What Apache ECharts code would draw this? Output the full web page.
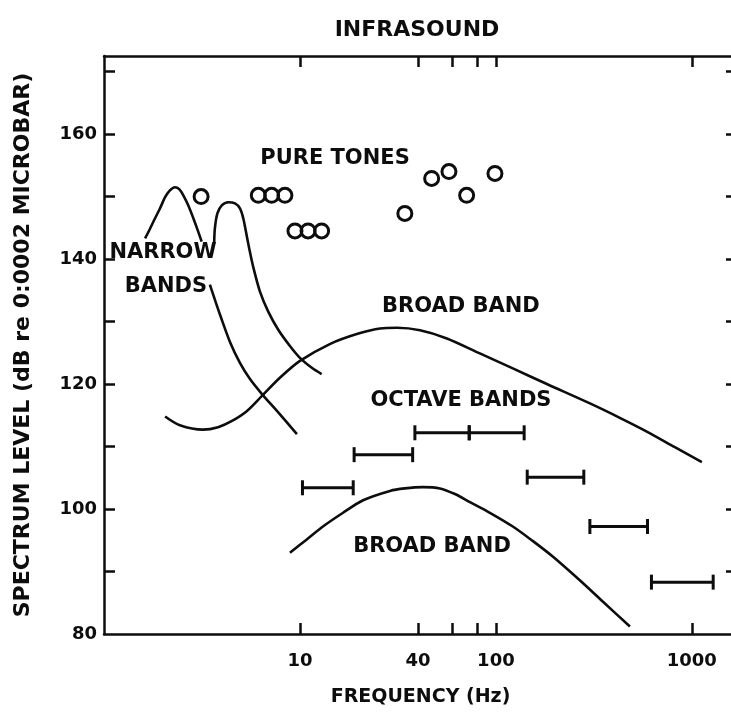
<!DOCTYPE html>
<html><head><meta charset="utf-8">
<script src="https://cdn.jsdelivr.net/npm/echarts@6/dist/echarts.min.js"></script>
<style>html,body{margin:0;padding:0;background:#fff}#c{width:731px;height:719px}</style>
</head><body><div id="c"></div>
<script>
// ---- data (frequency in Hz, level in dB) ----
const xTicksHz = [10, 40, 60, 80, 100, 1000];
const xLabelsHz = [10, 40, 100, 1000];
const yTicks = [90, 100, 110, 120, 130, 140, 150, 160, 170];
const yLabels = [80, 100, 120, 140, 160];

const pureTones = [[3.13,150.0],[6.13,150.2],[7.17,150.2],[8.38,150.2],[9.43,144.5],[11.0,144.5],[12.9,144.5],[34.3,147.3],[47.0,152.9],[57.6,154.0],[70.9,150.2],[98.9,153.7]];

const narrowBand1 = [[1.62,143.3],[1.72,144.9],[1.82,146.5],[1.93,148.1],[2.05,149.9],[2.17,151.0],[2.30,151.5],[2.42,151.2],[2.54,150.2],[2.69,148.6],[2.86,146.5],[3.01,144.6],[3.15,142.8],[3.3,null],[3.47,135.9],[3.68,133.5],[3.91,131.1],[4.40,126.7],[4.94,123.4],[5.56,120.8],[6.40,118.4],[7.63,115.7],[9.65,112.0]];
const narrowBand2 = [[3.65,142.5],[3.68,144.9],[3.79,147.3],[3.99,148.6],[4.31,149.1],[4.66,148.9],[4.94,148.1],[5.14,146.5],[5.30,144.4],[5.51,141.7],[5.79,138.6],[6.25,134.8],[6.89,131.6],[7.75,128.7],[8.89,126.1],[10.0,124.2],[11.5,122.6],[12.9,121.6]];
const broadBandUpper = [[2.05,114.8],[2.44,113.4],[3.20,112.7],[3.82,113.1],[4.50,114.1],[5.37,115.7],[6.40,118.1],[7.90,121.0],[10.0,123.7],[14.2,126.4],[19.5,128.0],[25.6,128.9],[31.3,129.0],[41.0,128.6],[56.2,127.3],[82.8,124.9],[122,122.5],[182,120.0],[302,116.9],[429,114.6],[589,112.4],[819,109.9],[1125,107.5]];
const broadBandLower = [[8.89,93.0],[10.8,95.1],[13.1,97.2],[16.6,99.4],[21.0,101.4],[28.8,102.9],[34.3,103.3],[42.4,103.5],[51.8,103.3],[61.8,102.4],[73.7,101.1],[93.2,99.4],[122,97.2],[154,94.9],[195,92.4],[268,88.6],[351,85.2],[483,81.2]];

const octaveLow   = [10.3, 18.9, 38.6, 73.1, 144.5, 301.7, 622];
const octaveHigh  = [18.7, 37.6, 73.1, 139.4, 281, 594, 1285];
const octaveLevel = [103.4, 108.7, 112.2, 112.2, 105.1, 97.2, 88.3];

const annotations = [['PURE TONES',15.1,156.1],['NARROW',2.0,141.0],['BANDS',2.07,135.6],['BROAD BAND',66.3,132.4],['OCTAVE BANDS',66.3,117.3],['BROAD BAND',47.2,94.0]];

const X_MIN = 1, X_MAX = 1700;
const FONT = 'DejaVu Sans';
const INK = '#0d0d0d';

const chart = echarts.init(document.getElementById('c'), null, {renderer: 'canvas'});
const LMIN = Math.log10(X_MIN), LMAX = Math.log10(X_MAX);
const tickAxisCommon = {
  type: 'value', min: LMIN, max: LMAX, splitLine: {show: false},
  axisLine: {show: true, onZero: false, lineStyle: {color: INK, width: 2.5}},
  axisTick: {show: true, inside: true, length: 11, lineStyle: {color: INK, width: 2.5}, customValues: xTicksHz.map(v => Math.log10(v))}
};
const lineStyle = {color: INK, width: 2.6, opacity: 1};
const curve = (name, data) => ({name, type: 'line', data, smooth: 0.3, showSymbol: false, symbol: 'none', connectNulls: false, lineStyle});

chart.setOption({
  animation: false,
  backgroundColor: '#fff',
  title: {text: 'INFRASOUND', left: 417, top: 19, textAlign: 'center', padding: 0,
    textStyle: {fontFamily: FONT, fontSize: 22, fontWeight: 'bold', color: INK}},
  grid: {left: 104, top: 56, bottom: 85, right: -6, containLabel: false, outerBoundsMode: 'none'},
  xAxis: [
    {type: 'log', logBase: 10, min: X_MIN, max: X_MAX, position: 'bottom',
      axisLine: {show: false, onZero: false}, axisTick: {show: false}, axisLabel: {show: false},
      splitLine: {show: false}, minorTick: {show: false}},
    Object.assign({}, tickAxisCommon, {position: 'bottom',
      axisLabel: {show: true, customValues: xLabelsHz.map(v => Math.log10(v)), margin: 18,
        formatter: v => String(Math.round(Math.pow(10, v))),
        fontFamily: FONT, fontSize: 18, fontWeight: 'bold', color: INK},
      name: 'FREQUENCY (Hz)', nameLocation: 'middle', nameGap: 54,
      nameTextStyle: {fontFamily: FONT, fontSize: 19, fontWeight: 'bold', color: INK}}),
    Object.assign({}, tickAxisCommon, {position: 'top', axisLabel: {show: false}})
  ],
  yAxis: [
    {type: 'value', min: 80, max: 172.5, position: 'left', splitLine: {show: false},
      axisLine: {show: true, onZero: false, lineStyle: {color: INK, width: 2.5}},
      axisTick: {show: true, inside: true, length: 11, lineStyle: {color: INK, width: 2.5}, customValues: yTicks},
      axisLabel: {show: true, customValues: yLabels, margin: 7, fontFamily: FONT, fontSize: 18, fontWeight: 'bold', color: INK},
      name: 'SPECTRUM LEVEL (dB re 0:0002 MICROBAR)', nameLocation: 'middle', nameRotate: 90, nameGap: 70,
      nameTextStyle: {fontFamily: FONT, fontSize: 22, fontWeight: 'bold', color: INK}},
    {type: 'value', min: 80, max: 172.5, position: 'right', splitLine: {show: false},
      axisLine: {show: true, onZero: false, lineStyle: {color: INK, width: 2.5}},
      axisTick: {show: true, inside: true, length: 11, lineStyle: {color: INK, width: 2.5}, customValues: yTicks},
      axisLabel: {show: false}}
  ],
  series: [
    curve('Narrow band 1', narrowBand1),
    curve('Narrow band 2', narrowBand2),
    curve('Broad band (upper)', broadBandUpper),
    curve('Broad band (lower)', broadBandLower),
    {name: 'Pure tones', type: 'scatter', data: pureTones, symbol: 'circle', symbolSize: 14,
      itemStyle: {color: 'rgba(255,255,255,0)', borderColor: INK, borderWidth: 3, opacity: 1}},
    {name: 'Octave bands', type: 'custom',
      data: octaveLow.map((lo, i) => [lo, octaveHigh[i], octaveLevel[i]]),
      encode: {x: [0, 1], y: 2},
      renderItem: function (params, api) {
        const a = api.coord([api.value(0), api.value(2)]);
        const b = api.coord([api.value(1), api.value(2)]);
        const h = 7.5, st = {stroke: INK, lineWidth: 3};
        return {type: 'group', children: [
          {type: 'line', shape: {x1: a[0], y1: a[1], x2: b[0], y2: b[1]}, style: st},
          {type: 'line', shape: {x1: a[0], y1: a[1] - h, x2: a[0], y2: a[1] + h}, style: st},
          {type: 'line', shape: {x1: b[0], y1: b[1] - h, x2: b[0], y2: b[1] + h}, style: st}
        ]};
      }},
    {name: 'Annotations', type: 'scatter', data: annotations.map(a => [a[1], a[2], a[0]]),
      symbolSize: 1, itemStyle: {color: 'rgba(255,255,255,0)', opacity: 1}, z: 5,
      label: {show: true, position: 'inside', formatter: p => p.value[2], opacity: 1,
        fontFamily: FONT, fontSize: 21, fontWeight: 'bold', color: INK}}
  ]
});
</script></body></html>
